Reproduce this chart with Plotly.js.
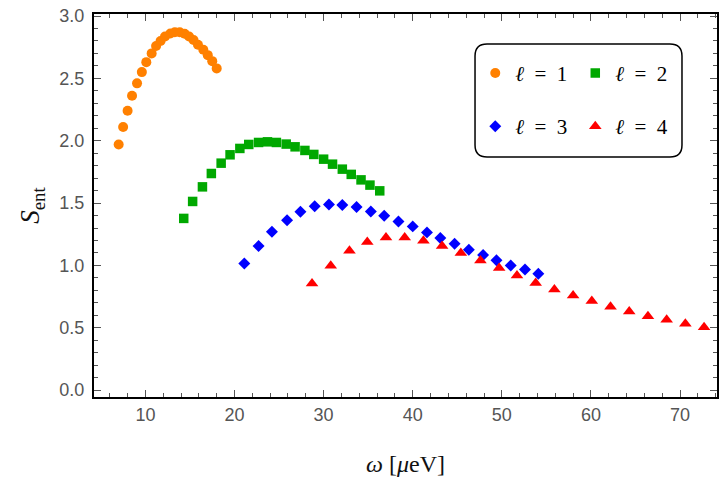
<!DOCTYPE html>
<html>
<head>
<meta charset="utf-8">
<script src="https://cdn.plot.ly/plotly-3.0.1.min.js"></script>
<style>
  html, body { margin: 0; padding: 0; background: #fff; }
  #chart { width: 720px; height: 486px; }
</style>
</head>
<body>
<div id="chart"></div>
<script>
// entanglement entropy vs frequency, one series per l
var w1 = [7.0, 7.5, 8.0, 8.5, 9.06, 9.6, 10.1, 10.7, 11.2, 11.7, 12.2, 12.8, 13.3, 13.85, 14.4, 14.9, 15.4, 15.9, 16.5, 17.0, 17.5, 18.0];
var s1 = [1.97, 2.11, 2.24, 2.36, 2.46, 2.55, 2.63, 2.70, 2.76, 2.80, 2.836, 2.86, 2.87, 2.87, 2.857, 2.836, 2.807, 2.77, 2.73, 2.686, 2.638, 2.58];

var w2 = [14.3, 15.3, 16.4, 17.4, 18.5, 19.5, 20.6, 21.6, 22.7, 23.7, 24.7, 25.8, 26.8, 27.9, 28.9, 30.0, 31.0, 32.1, 33.1, 34.2, 35.2, 36.3];
var s2 = [1.377, 1.513, 1.63, 1.737, 1.82, 1.887, 1.938, 1.97, 1.986, 1.991, 1.986, 1.973, 1.951, 1.922, 1.89, 1.852, 1.812, 1.772, 1.73, 1.686, 1.644, 1.598];

var w3 = [21.1, 22.7, 24.2, 25.9, 27.4, 29.0, 30.6, 32.1, 33.7, 35.3, 36.8, 38.4, 40.0, 41.6, 43.1, 44.7, 46.3, 47.9, 49.4, 51.0, 52.6, 54.1];
var s3 = [1.016, 1.155, 1.27, 1.363, 1.43, 1.475, 1.489, 1.484, 1.468, 1.433, 1.398, 1.353, 1.313, 1.265, 1.22, 1.173, 1.125, 1.083, 1.042, 1.0, 0.967, 0.933];

var w4 = [28.7, 30.8, 32.9, 34.9, 37.0, 39.1, 41.2, 43.3, 45.4, 47.6, 49.7, 51.7, 53.8, 55.9, 58.0, 60.1, 62.2, 64.3, 66.4, 68.5, 70.6, 72.7];
var s4 = [0.856, 0.997, 1.117, 1.187, 1.224, 1.224, 1.197, 1.155, 1.10, 1.04, 0.98, 0.92, 0.86, 0.807, 0.759, 0.714, 0.668, 0.631, 0.593, 0.564, 0.532, 0.505];

var names = ['<i>ℓ</i>\u2002=\u20021', '<i>ℓ</i>\u2002=\u20022', '<i>ℓ</i>\u2002=\u20023', '<i>ℓ</i>\u2002=\u20024'];

var serif = '"Liberation Serif", "DejaVu Serif", serif';
var sans = '"Liberation Sans", Arial, sans-serif';

function series(x, y, name, color, symbol, size, legend) {
  return {
    x: x, y: y, name: name, type: 'scatter', mode: 'markers',
    marker: { color: color, symbol: symbol, size: size, line: { width: 0 } },
    legend: legend
  };
}

var data = [
  series(w1, s1, names[0], '#FF8000', 'circle', 10, 'legend'),
  series(w2, s2, names[1], '#00A800', 'square', 9.5, 'legend'),
  series(w3, s3, names[2], '#0000FF', 'diamond', 9.2, 'legend2'),
  series(w4, s4, names[3], '#FF0000', 'triangle-up', 11, 'legend2')
];

var axisBase = {
  showgrid: false, zeroline: false,
  showline: true, linecolor: '#000', linewidth: 2, mirror: 'allticks',
  ticks: 'inside', ticklen: 7, tickwidth: 1, tickcolor: '#555',
  tickfont: { family: sans, size: 18, color: '#555' }
};

var legendBase = {
  orientation: 'h', xref: 'paper', yref: 'paper',
  x: 0.612, xanchor: 'left', yanchor: 'middle',
  bgcolor: 'rgba(0,0,0,0)', borderwidth: 0,
  entrywidth: 55, entrywidthmode: 'pixels',
  font: { family: serif, size: 21, color: '#000' }
};

var layout = {
  width: 720, height: 486,
  margin: { l: 94, r: 3, t: 14, b: 89 },
  paper_bgcolor: '#fff', plot_bgcolor: '#fff',
  showlegend: true,
  xaxis: Object.assign({}, axisBase, {
    range: [4.23, 74.15], dtick: 10, tick0: 0,
    minor: { dtick: 2, ticklen: 4, tickcolor: '#555', tickwidth: 1, ticks: 'inside' },
    title: { text: '<i>ω</i> [<i>μ</i>eV]', font: { family: serif, size: 24, color: '#111' }, standoff: 32 }
  }),
  yaxis: Object.assign({}, axisBase, {
    range: [-0.055, 3.016], dtick: 0.5, tick0: 0, tickformat: '.1f',
    ticklabelstandoff: 4,
    minor: { dtick: 0.1, ticklen: 4, tickcolor: '#555', tickwidth: 1, ticks: 'inside' },
    title: { text: '<i>S</i><sub>ent</sub>', font: { family: serif, size: 27, color: '#111' }, standoff: 12 }
  }),
  legend: Object.assign({}, legendBase, { y: 0.845 }),
  legend2: Object.assign({}, legendBase, { y: 0.706 }),
  shapes: [{
    // rounded legend frame
    type: 'path', xref: 'paper', yref: 'paper', layer: 'below',
    path: 'M 0.6309,0.9217 L 0.9245,0.9217 Q 0.9438,0.9217 0.9438,0.8904 L 0.9438,0.6579 ' +
          'Q 0.9438,0.6266 0.9245,0.6266 L 0.6309,0.6266 Q 0.6116,0.6266 0.6116,0.6579 ' +
          'L 0.6116,0.8904 Q 0.6116,0.9217 0.6309,0.9217 Z',
    line: { color: '#000', width: 1.5 }, fillcolor: 'rgba(0,0,0,0)'
  }]
};

Plotly.newPlot('chart', data, layout, { displayModeBar: false, staticPlot: true });
</script>
</body>
</html>
